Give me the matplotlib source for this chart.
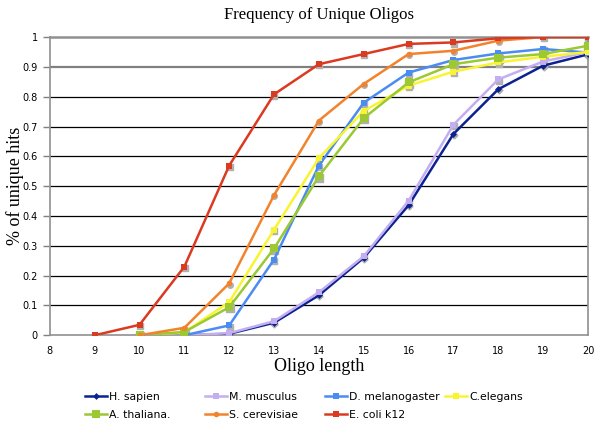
import matplotlib
matplotlib.use("Agg")
import matplotlib.pyplot as plt
import numpy as np

# values
x_from9 = [9, 10, 11, 12, 13, 14, 15, 16, 17, 18, 19, 20]
x_from10 = x_from9[1:]
x_from11 = x_from9[2:]

h_sapien = [0.0, 0.005, 0.042, 0.134, 0.260, 0.436, 0.675, 0.825, 0.904, 0.942]
m_musculus = [0.0, 0.007, 0.047, 0.144, 0.265, 0.451, 0.706, 0.858, 0.918, 0.950]
d_melanogaster = [0.0, 0.033, 0.254, 0.569, 0.780, 0.881, 0.923, 0.945, 0.960, 0.948]
c_elegans = [0.0, 0.010, 0.111, 0.354, 0.594, 0.752, 0.837, 0.884, 0.915, 0.934, 0.950]
a_thaliana = [0.0, 0.011, 0.094, 0.291, 0.533, 0.728, 0.848, 0.909, 0.931, 0.943, 0.971]
s_cerevisiae = [0.0, 0.025, 0.174, 0.470, 0.720, 0.843, 0.943, 0.954, 0.988, 1.0, 1.0]
e_coli = [0.0, 0.035, 0.230, 0.569, 0.808, 0.909, 0.943, 0.977, 0.982, 0.996, 1.0, 1.0]

series = [
    ("H. sapien", x_from11, h_sapien, "#0c2290", "D", 3.5),
    ("M. musculus", x_from11, m_musculus, "#c4aef2", "s", 4.5),
    ("D. melanogaster", x_from11, d_melanogaster, "#4a8cf2", "s", 5),
    ("C.elegans", x_from10, c_elegans, "#f8f530", "s", 5),
    ("A. thaliana.", x_from10, a_thaliana, "#9cc832", "s", 5.5),
    ("S. cerevisiae", x_from10, s_cerevisiae, "#f2832c", "o", 4),
    ("E. coli k12", x_from9, e_coli, "#dc3a20", "s", 5),
]

fig = plt.figure(figsize=(6, 4.26), dpi=100)
ax = fig.add_axes([0.083, 0.213, 0.897, 0.700])

handles = {}
for name, xs, ys, col, mk, ms in series:
    # faint grey drop shadow like the spreadsheet original
    ax.plot(np.array(xs) + 0.01, np.array(ys) - 0.004, marker=mk, ms=ms,
            color="#b0b0b0", lw=0, zorder=2)
    ln, = ax.plot(xs, ys, marker=mk, ms=ms, color=col, lw=1.8,
                  markeredgewidth=0, label=name, zorder=3)
    handles[name] = ln

ax.set_xlim(8, 20)
ax.set_ylim(0, 1)
ax.set_xticks(range(8, 21))
ax.set_yticks(np.arange(0, 1.01, 0.1))
ax.set_yticklabels(["0", "0.1", "0.2", "0.3", "0.4", "0.5", "0.6", "0.7",
                    "0.8", "0.9", "1"])
ax.tick_params(labelsize=7, colors="#808080", labelcolor="black",
               length=5, width=1)
ax.tick_params(axis="x", length=0, pad=8)

for v in np.arange(0.1, 0.95, 0.1):
    if abs(v - 0.9) < 1e-6:
        ax.axhline(v, color="#808080", lw=1.6, zorder=1)
    else:
        ax.axhline(v, color="black", lw=0.9, zorder=1)

for s in ax.spines.values():
    s.set_color("#909090")
    s.set_linewidth(1.2)
ax.spines["top"].set_linewidth(1.8)

ax.set_title("Frequency of Unique Oligos", fontfamily="Liberation Serif",
             fontsize=12, pad=13)
ax.set_xlabel("Oligo length", fontfamily="Liberation Serif", fontsize=13,
              labelpad=1)
ax.set_ylabel("% of unique hits", fontfamily="Liberation Serif", fontsize=13)
ax.yaxis.set_label_coords(-0.048, 0.5)

# legend: four equal-width columns, two rows
columns = [["H. sapien", "A. thaliana."],
           ["M. musculus", "S. cerevisiae"],
           ["D. melanogaster", "E. coli k12"],
           ["C.elegans"]]
col_left = [0.142, 0.342, 0.542, 0.742]
for names, x0 in zip(columns, col_left):
    fig.legend([handles[n] for n in names], names, loc="upper left",
               bbox_to_anchor=(x0, 0.080), frameon=False, fontsize=7.8,
               handlelength=2.0, handletextpad=0.2, labelspacing=0.75,
               borderpad=0, borderaxespad=0)

fig.savefig("out.png", dpi=100, facecolor="white")
